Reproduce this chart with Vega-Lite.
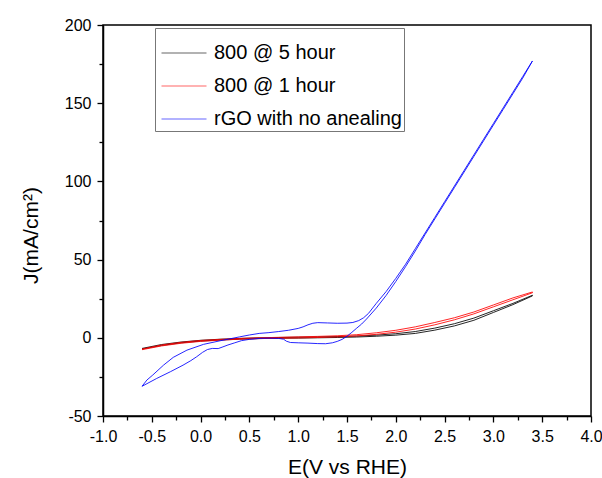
{
  "$schema": "https://vega.github.io/schema/vega-lite/v6.json",
  "width": 488,
  "height": 391,
  "autosize": {"type": "none"},
  "padding": {"left": 103, "top": 25, "right": 11, "bottom": 62},
  "background": "white",
  "config": {
    "font": "Liberation Sans",
    "view": {"stroke": "#000000", "strokeWidth": 1.5},
    "axis": {
      "domainColor": "#000000", "domainWidth": 1.5,
      "tickColor": "#000000", "tickWidth": 1.3,
      "labelFont": "Liberation Sans", "labelFontSize": 16, "labelColor": "#000000",
      "titleFont": "Liberation Sans", "titleFontSize": 21, "titleFontWeight": "normal", "titleColor": "#000000",
      "grid": false
    },
    "legend": {
      "labelFont": "Liberation Sans", "labelFontSize": 20, "labelColor": "#000000"
    }
  },
  "data": {"values": [
    {"s":"800 @ 5 hour","i":0,"E":-0.6,"J":-7.2},
    {"s":"800 @ 5 hour","i":1,"E":-0.4,"J":-4.9},
    {"s":"800 @ 5 hour","i":2,"E":-0.2,"J":-3.2},
    {"s":"800 @ 5 hour","i":3,"E":0.0,"J":-2.1},
    {"s":"800 @ 5 hour","i":4,"E":0.2,"J":-1.4},
    {"s":"800 @ 5 hour","i":5,"E":0.4,"J":-0.9},
    {"s":"800 @ 5 hour","i":6,"E":0.6,"J":-0.5},
    {"s":"800 @ 5 hour","i":7,"E":0.8,"J":-0.3},
    {"s":"800 @ 5 hour","i":8,"E":1.0,"J":-0.2},
    {"s":"800 @ 5 hour","i":9,"E":1.2,"J":0.0},
    {"s":"800 @ 5 hour","i":10,"E":1.4,"J":0.2},
    {"s":"800 @ 5 hour","i":11,"E":1.6,"J":0.5},
    {"s":"800 @ 5 hour","i":12,"E":1.8,"J":1.0},
    {"s":"800 @ 5 hour","i":13,"E":2.0,"J":1.7},
    {"s":"800 @ 5 hour","i":14,"E":2.2,"J":2.8},
    {"s":"800 @ 5 hour","i":15,"E":2.4,"J":4.9},
    {"s":"800 @ 5 hour","i":16,"E":2.6,"J":7.6},
    {"s":"800 @ 5 hour","i":17,"E":2.8,"J":11.2},
    {"s":"800 @ 5 hour","i":18,"E":3.0,"J":16.2},
    {"s":"800 @ 5 hour","i":19,"E":3.2,"J":21.2},
    {"s":"800 @ 5 hour","i":20,"E":3.4,"J":26.8},
    {"s":"800 @ 5 hour","i":21,"E":3.4,"J":27.2},
    {"s":"800 @ 5 hour","i":22,"E":3.2,"J":22.0},
    {"s":"800 @ 5 hour","i":23,"E":3.0,"J":17.3},
    {"s":"800 @ 5 hour","i":24,"E":2.8,"J":12.6},
    {"s":"800 @ 5 hour","i":25,"E":2.6,"J":9.0},
    {"s":"800 @ 5 hour","i":26,"E":2.4,"J":6.2},
    {"s":"800 @ 5 hour","i":27,"E":2.2,"J":4.0},
    {"s":"800 @ 5 hour","i":28,"E":2.0,"J":2.6},
    {"s":"800 @ 5 hour","i":29,"E":1.8,"J":1.7},
    {"s":"800 @ 5 hour","i":30,"E":1.6,"J":1.1},
    {"s":"800 @ 5 hour","i":31,"E":1.4,"J":0.8},
    {"s":"800 @ 5 hour","i":32,"E":1.2,"J":0.6},
    {"s":"800 @ 5 hour","i":33,"E":1.0,"J":0.4},
    {"s":"800 @ 5 hour","i":34,"E":0.8,"J":0.2},
    {"s":"800 @ 5 hour","i":35,"E":0.6,"J":0.0},
    {"s":"800 @ 5 hour","i":36,"E":0.4,"J":-0.4},
    {"s":"800 @ 5 hour","i":37,"E":0.2,"J":-0.9},
    {"s":"800 @ 5 hour","i":38,"E":0.0,"J":-1.6},
    {"s":"800 @ 5 hour","i":39,"E":-0.2,"J":-2.7},
    {"s":"800 @ 5 hour","i":40,"E":-0.4,"J":-4.3},
    {"s":"800 @ 5 hour","i":41,"E":-0.6,"J":-6.8},

    {"s":"800 @ 1 hour","i":0,"E":-0.6,"J":-7.6},
    {"s":"800 @ 1 hour","i":1,"E":-0.4,"J":-5.2},
    {"s":"800 @ 1 hour","i":2,"E":-0.2,"J":-3.5},
    {"s":"800 @ 1 hour","i":3,"E":0.0,"J":-2.3},
    {"s":"800 @ 1 hour","i":4,"E":0.2,"J":-1.5},
    {"s":"800 @ 1 hour","i":5,"E":0.4,"J":-0.9},
    {"s":"800 @ 1 hour","i":6,"E":0.6,"J":-0.5},
    {"s":"800 @ 1 hour","i":7,"E":0.8,"J":-0.3},
    {"s":"800 @ 1 hour","i":8,"E":1.0,"J":-0.1},
    {"s":"800 @ 1 hour","i":9,"E":1.2,"J":0.2},
    {"s":"800 @ 1 hour","i":10,"E":1.4,"J":0.6},
    {"s":"800 @ 1 hour","i":11,"E":1.6,"J":1.2},
    {"s":"800 @ 1 hour","i":12,"E":1.8,"J":2.2},
    {"s":"800 @ 1 hour","i":13,"E":2.0,"J":3.6},
    {"s":"800 @ 1 hour","i":14,"E":2.2,"J":5.6},
    {"s":"800 @ 1 hour","i":15,"E":2.4,"J":8.3},
    {"s":"800 @ 1 hour","i":16,"E":2.6,"J":11.5},
    {"s":"800 @ 1 hour","i":17,"E":2.8,"J":15.3},
    {"s":"800 @ 1 hour","i":18,"E":3.0,"J":19.8},
    {"s":"800 @ 1 hour","i":19,"E":3.2,"J":24.3},
    {"s":"800 @ 1 hour","i":20,"E":3.4,"J":28.8},
    {"s":"800 @ 1 hour","i":21,"E":3.4,"J":29.3},
    {"s":"800 @ 1 hour","i":22,"E":3.2,"J":25.5},
    {"s":"800 @ 1 hour","i":23,"E":3.0,"J":21.0},
    {"s":"800 @ 1 hour","i":24,"E":2.8,"J":16.5},
    {"s":"800 @ 1 hour","i":25,"E":2.6,"J":12.8},
    {"s":"800 @ 1 hour","i":26,"E":2.4,"J":9.8},
    {"s":"800 @ 1 hour","i":27,"E":2.2,"J":7.0},
    {"s":"800 @ 1 hour","i":28,"E":2.0,"J":4.8},
    {"s":"800 @ 1 hour","i":29,"E":1.8,"J":3.2},
    {"s":"800 @ 1 hour","i":30,"E":1.6,"J":2.0},
    {"s":"800 @ 1 hour","i":31,"E":1.4,"J":1.3},
    {"s":"800 @ 1 hour","i":32,"E":1.2,"J":0.9},
    {"s":"800 @ 1 hour","i":33,"E":1.0,"J":0.6},
    {"s":"800 @ 1 hour","i":34,"E":0.8,"J":0.3},
    {"s":"800 @ 1 hour","i":35,"E":0.6,"J":0.0},
    {"s":"800 @ 1 hour","i":36,"E":0.4,"J":-0.4},
    {"s":"800 @ 1 hour","i":37,"E":0.2,"J":-1.0},
    {"s":"800 @ 1 hour","i":38,"E":0.0,"J":-1.7},
    {"s":"800 @ 1 hour","i":39,"E":-0.2,"J":-2.9},
    {"s":"800 @ 1 hour","i":40,"E":-0.4,"J":-4.6},
    {"s":"800 @ 1 hour","i":41,"E":-0.6,"J":-7.2},

    {"s":"rGO with no anealing","i":0,"E":-0.6,"J":-31},
    {"s":"rGO with no anealing","i":1,"E":-0.55,"J":-27},
    {"s":"rGO with no anealing","i":2,"E":-0.49,"J":-23.8},
    {"s":"rGO with no anealing","i":3,"E":-0.38,"J":-17.5},
    {"s":"rGO with no anealing","i":4,"E":-0.28,"J":-12.5},
    {"s":"rGO with no anealing","i":5,"E":-0.14,"J":-7.9},
    {"s":"rGO with no anealing","i":6,"E":0.03,"J":-4.2},
    {"s":"rGO with no anealing","i":7,"E":0.2,"J":-1.9},
    {"s":"rGO with no anealing","i":8,"E":0.4,"J":0.6},
    {"s":"rGO with no anealing","i":9,"E":0.5,"J":1.8},
    {"s":"rGO with no anealing","i":10,"E":0.6,"J":2.8},
    {"s":"rGO with no anealing","i":11,"E":0.7,"J":3.3},
    {"s":"rGO with no anealing","i":12,"E":0.8,"J":4.0},
    {"s":"rGO with no anealing","i":13,"E":0.9,"J":4.8},
    {"s":"rGO with no anealing","i":14,"E":1.0,"J":6.0},
    {"s":"rGO with no anealing","i":15,"E":1.05,"J":7.0},
    {"s":"rGO with no anealing","i":16,"E":1.1,"J":8.3},
    {"s":"rGO with no anealing","i":17,"E":1.15,"J":9.3},
    {"s":"rGO with no anealing","i":18,"E":1.2,"J":9.7},
    {"s":"rGO with no anealing","i":19,"E":1.3,"J":9.5},
    {"s":"rGO with no anealing","i":20,"E":1.4,"J":9.3},
    {"s":"rGO with no anealing","i":21,"E":1.5,"J":9.4},
    {"s":"rGO with no anealing","i":22,"E":1.56,"J":9.8},
    {"s":"rGO with no anealing","i":23,"E":1.62,"J":11.0},
    {"s":"rGO with no anealing","i":24,"E":1.67,"J":12.8},
    {"s":"rGO with no anealing","i":25,"E":1.72,"J":15.6},
    {"s":"rGO with no anealing","i":26,"E":1.8,"J":22},
    {"s":"rGO with no anealing","i":27,"E":1.9,"J":29.5},
    {"s":"rGO with no anealing","i":28,"E":2.0,"J":38},
    {"s":"rGO with no anealing","i":29,"E":2.1,"J":47},
    {"s":"rGO with no anealing","i":30,"E":2.2,"J":57},
    {"s":"rGO with no anealing","i":31,"E":2.3,"J":67},
    {"s":"rGO with no anealing","i":32,"E":2.4,"J":77},
    {"s":"rGO with no anealing","i":33,"E":2.5,"J":87},
    {"s":"rGO with no anealing","i":34,"E":2.6,"J":97},
    {"s":"rGO with no anealing","i":35,"E":2.7,"J":107},
    {"s":"rGO with no anealing","i":36,"E":2.8,"J":117},
    {"s":"rGO with no anealing","i":37,"E":2.9,"J":127},
    {"s":"rGO with no anealing","i":38,"E":3.0,"J":137},
    {"s":"rGO with no anealing","i":39,"E":3.1,"J":147},
    {"s":"rGO with no anealing","i":40,"E":3.2,"J":157},
    {"s":"rGO with no anealing","i":41,"E":3.3,"J":167},
    {"s":"rGO with no anealing","i":42,"E":3.4,"J":177},
    {"s":"rGO with no anealing","i":43,"E":3.3,"J":166},
    {"s":"rGO with no anealing","i":44,"E":3.2,"J":156},
    {"s":"rGO with no anealing","i":45,"E":3.1,"J":146},
    {"s":"rGO with no anealing","i":46,"E":3.0,"J":136},
    {"s":"rGO with no anealing","i":47,"E":2.9,"J":126},
    {"s":"rGO with no anealing","i":48,"E":2.8,"J":116},
    {"s":"rGO with no anealing","i":49,"E":2.7,"J":106},
    {"s":"rGO with no anealing","i":50,"E":2.6,"J":96},
    {"s":"rGO with no anealing","i":51,"E":2.5,"J":86},
    {"s":"rGO with no anealing","i":52,"E":2.4,"J":76},
    {"s":"rGO with no anealing","i":53,"E":2.3,"J":66},
    {"s":"rGO with no anealing","i":54,"E":2.2,"J":55.5},
    {"s":"rGO with no anealing","i":55,"E":2.1,"J":45.5},
    {"s":"rGO with no anealing","i":56,"E":2.0,"J":36},
    {"s":"rGO with no anealing","i":57,"E":1.9,"J":27},
    {"s":"rGO with no anealing","i":58,"E":1.8,"J":19},
    {"s":"rGO with no anealing","i":59,"E":1.7,"J":12},
    {"s":"rGO with no anealing","i":60,"E":1.65,"J":8.8},
    {"s":"rGO with no anealing","i":61,"E":1.6,"J":6.2},
    {"s":"rGO with no anealing","i":62,"E":1.55,"J":3.5},
    {"s":"rGO with no anealing","i":63,"E":1.5,"J":1.0},
    {"s":"rGO with no anealing","i":64,"E":1.45,"J":-1.0},
    {"s":"rGO with no anealing","i":65,"E":1.4,"J":-2.3},
    {"s":"rGO with no anealing","i":66,"E":1.35,"J":-3.2},
    {"s":"rGO with no anealing","i":67,"E":1.28,"J":-3.8},
    {"s":"rGO with no anealing","i":68,"E":1.2,"J":-3.7},
    {"s":"rGO with no anealing","i":69,"E":1.1,"J":-3.4},
    {"s":"rGO with no anealing","i":70,"E":1.0,"J":-3.2},
    {"s":"rGO with no anealing","i":71,"E":0.92,"J":-3.0},
    {"s":"rGO with no anealing","i":72,"E":0.88,"J":-2.2},
    {"s":"rGO with no anealing","i":73,"E":0.85,"J":-0.9},
    {"s":"rGO with no anealing","i":74,"E":0.8,"J":-0.4},
    {"s":"rGO with no anealing","i":75,"E":0.7,"J":-0.2},
    {"s":"rGO with no anealing","i":76,"E":0.6,"J":-0.4},
    {"s":"rGO with no anealing","i":77,"E":0.5,"J":-1.0},
    {"s":"rGO with no anealing","i":78,"E":0.42,"J":-1.8},
    {"s":"rGO with no anealing","i":79,"E":0.35,"J":-3.2},
    {"s":"rGO with no anealing","i":80,"E":0.28,"J":-4.6},
    {"s":"rGO with no anealing","i":81,"E":0.22,"J":-6.0},
    {"s":"rGO with no anealing","i":82,"E":0.18,"J":-6.9},
    {"s":"rGO with no anealing","i":83,"E":0.12,"J":-6.8},
    {"s":"rGO with no anealing","i":84,"E":0.07,"J":-7.5},
    {"s":"rGO with no anealing","i":85,"E":0.02,"J":-9.3},
    {"s":"rGO with no anealing","i":86,"E":-0.04,"J":-12.1},
    {"s":"rGO with no anealing","i":87,"E":-0.1,"J":-14.6},
    {"s":"rGO with no anealing","i":88,"E":-0.18,"J":-17.5},
    {"s":"rGO with no anealing","i":89,"E":-0.31,"J":-21.7},
    {"s":"rGO with no anealing","i":90,"E":-0.45,"J":-26},
    {"s":"rGO with no anealing","i":91,"E":-0.6,"J":-31}
  ]},
  "mark": {"type": "line", "strokeWidth": 1, "strokeOpacity": 0.85, "interpolate": "linear"},
  "encoding": {
    "x": {
      "field": "E", "type": "quantitative",
      "scale": {"domain": [-1, 4], "nice": false, "zero": false},
      "axis": {
        "title": "E(V vs RHE)",
        "values": [-1, -0.75, -0.5, -0.25, 0, 0.25, 0.5, 0.75, 1, 1.25, 1.5, 1.75, 2, 2.25, 2.5, 2.75, 3, 3.25, 3.5, 3.75, 4],
        "labelExpr": "abs(datum.value * 2 - round(datum.value * 2)) < 0.001 ? replace(format(datum.value, '.1f'), '\u2212', '-') : ''",
        "tickSize": {"condition": {"test": "abs(datum.value * 2 - round(datum.value * 2)) < 0.001", "value": 6}, "value": 4},
        "labelPadding": 6,
        "labelFlush": false,
        "labelOverlap": false,
        "titlePadding": 12
      }
    },
    "y": {
      "field": "J", "type": "quantitative",
      "scale": {"domain": [-50, 200], "nice": false, "zero": false},
      "axis": {
        "title": "J(mA/cm²)",
        "titleY": 210,
        "values": [-50, -25, 0, 25, 50, 75, 100, 125, 150, 175, 200],
        "labelExpr": "datum.value % 50 === 0 ? replace(format(datum.value, 'd'), '\u2212', '-') : ''",
        "tickSize": {"condition": {"test": "datum.value % 50 === 0", "value": 6}, "value": 4},
        "labelPadding": 6,
        "labelFlush": false,
        "labelOverlap": false,
        "titlePadding": 23
      }
    },
    "color": {
      "field": "s", "type": "nominal",
      "scale": {
        "domain": ["800 @ 5 hour", "800 @ 1 hour", "rGO with no anealing"],
        "range": ["#000000", "#ff0000", "#0000ff"]
      },
      "legend": {
        "title": null,
        "orient": "none",
        "legendX": 52,
        "legendY": 3,
        "symbolType": "stroke",
        "symbolSize": 2025,
        "symbolStrokeWidth": 1,
        "symbolOpacity": 0.6,
        "symbolOffset": 4,
        "labelOffset": 7,
        "labelLimit": 400,
        "rowPadding": 0,
        "padding": 2,
        "strokeColor": "#777777",
        "fillColor": "white"
      }
    },
    "order": {"field": "i", "type": "quantitative"}
  }
}
